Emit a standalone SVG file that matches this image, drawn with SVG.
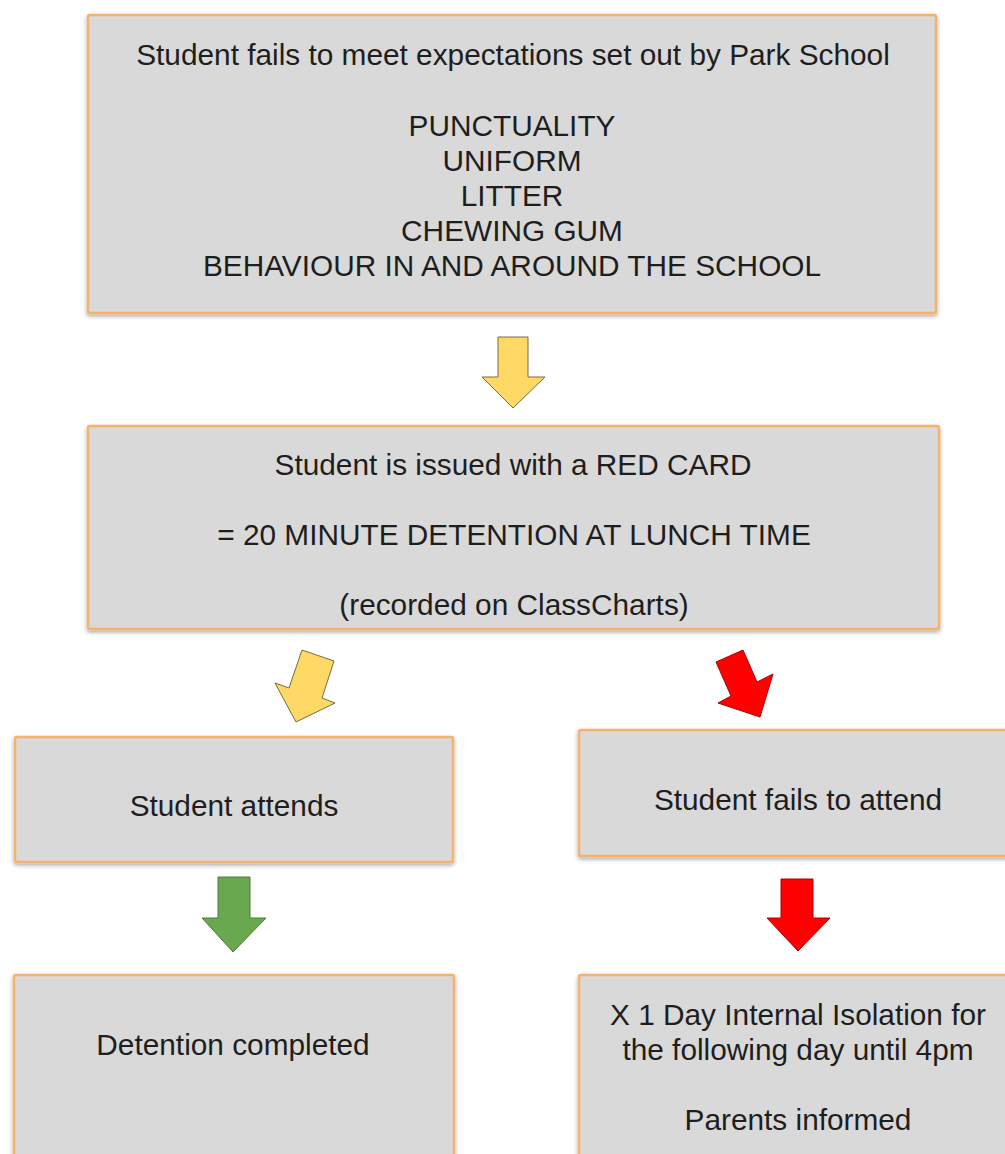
<svg xmlns="http://www.w3.org/2000/svg" width="1005" height="1154" viewBox="0 0 1005 1154">
<defs>
<filter id="sh" x="-5%" y="-5%" width="110%" height="115%">
<feDropShadow dx="0" dy="2" stdDeviation="2" flood-color="#000" flood-opacity="0.35"/>
</filter>
<style>
.box{fill:#d9d9d9;stroke:#f6b26b;stroke-width:2.5;filter:url(#sh)}
text{font-family:"Liberation Sans",Arial,sans-serif;font-size:29.8px;fill:#1e1e1e;text-anchor:middle}
.y{fill:#ffd966;stroke:#7a6a40;stroke-width:1}
.g{fill:#6aa84f;stroke:#4f7a3c;stroke-width:1}
.r{fill:#ff0000;stroke:#b00000;stroke-width:1}
</style>
</defs>
<rect width="1005" height="1154" fill="#ffffff"/>
<g id="expectations">
<rect class="box" x="88" y="15" width="848" height="298" rx="2"/>
<text x="513" y="65">Student fails to meet expectations set out by Park School</text>
<text x="512" y="136">PUNCTUALITY</text>
<text x="512" y="171">UNIFORM</text>
<text x="512" y="206">LITTER</text>
<text x="512" y="241">CHEWING GUM</text>
<text x="512" y="276">BEHAVIOUR IN AND AROUND THE SCHOOL</text>
</g>
<g id="red-card">
<rect class="box" x="88" y="426" width="851" height="203" rx="2"/>
<text x="513" y="475">Student is issued with a RED CARD</text>
<text x="514" y="545">= 20 MINUTE DETENTION AT LUNCH TIME</text>
<text x="514" y="615">(recorded on ClassCharts)</text>
</g>
<g id="attends">
<rect class="box" x="15" y="737" width="438" height="125" rx="2"/>
<text x="234" y="816">Student attends</text>
</g>
<g id="fails-to-attend">
<rect class="box" x="579" y="730" width="440" height="126" rx="2"/>
<text x="798" y="810">Student fails to attend</text>
</g>
<g id="completed">
<rect class="box" x="14" y="975" width="440" height="200" rx="2"/>
<text x="233" y="1055">Detention completed</text>
</g>
<g id="isolation">
<rect class="box" x="579" y="975" width="440" height="200" rx="2"/>
<text x="798" y="1025">X 1 Day Internal Isolation for</text>
<text x="798" y="1060">the following day until 4pm</text>
<text x="798" y="1130">Parents informed</text>
</g>
<g id="connectors">
<polygon class="y" points="498,337 528,337 528,377 545,377 513,408 482,377 498,377"/>
<polygon class="y" points="302,650 334,661 322,698 335,703 296,722 275,683 289,688"/>
<polygon class="r" points="716,662 743,650 757,682 773,674 760,717 718,703 731,696"/>
<polygon class="g" points="218,877 250,877 250,918 266,918 233,952 202,918 218,918"/>
<polygon class="r" points="781,879 813,879 813,918 830,918 798,951 767,918 781,918"/>
</g>
</svg>
